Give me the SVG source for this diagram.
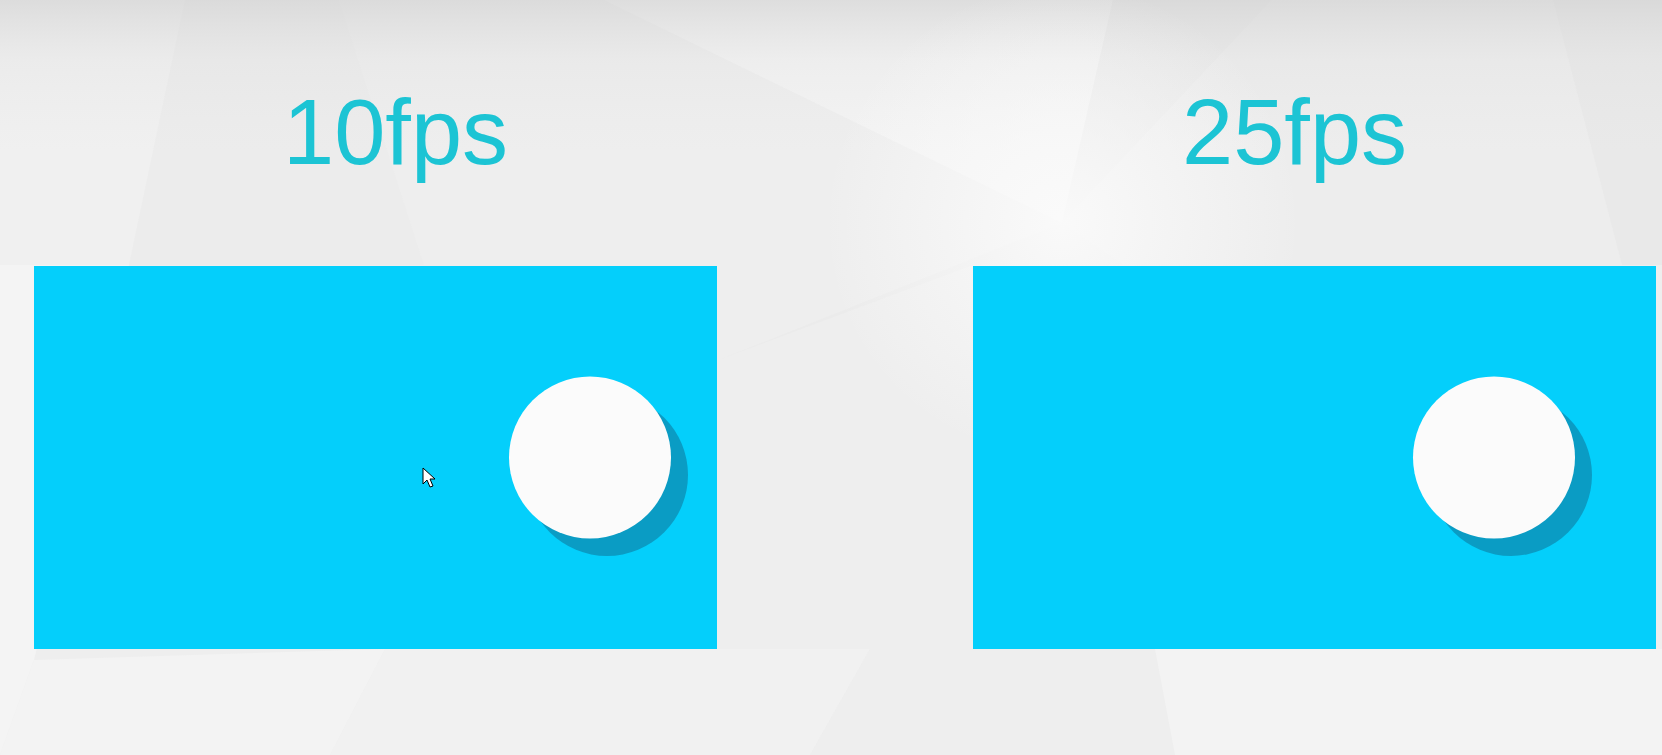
<svg xmlns="http://www.w3.org/2000/svg" width="1662" height="755" viewBox="0 0 1662 755">
<defs>
<linearGradient id="topShade" x1="0" y1="0" x2="0" y2="1">
<stop offset="0" stop-color="#cfcfcf" stop-opacity="0.6"/>
<stop offset="0.08" stop-color="#d8d8d8" stop-opacity="0.2"/>
<stop offset="0.2" stop-color="#e0e0e0" stop-opacity="0"/>
</linearGradient>
<radialGradient id="glow" cx="1062" cy="223" r="240" gradientUnits="userSpaceOnUse">
<stop offset="0" stop-color="#fbfbfb" stop-opacity="0.9"/>
<stop offset="1" stop-color="#fbfbfb" stop-opacity="0"/>
</radialGradient>
<style>
.panel{fill:#04cffb}
.ball{fill:#fbfbfb}
.shadow{fill:#0a9cc4}
.cursor{fill:#ffffff;stroke:#000000;stroke-width:1}
</style>
</defs>
<g id="background">
<rect x="0" y="0" width="1662" height="755" fill="#eeeeee"/>
<polygon points="0,0 185,0 129,265 0,265" fill="#f0f0f0"/>
<polygon points="0,265 129,265 34,660 0,755" fill="#f4f4f4"/>
<polygon points="185,0 339,0 424,265 129,265" fill="#ececec"/>
<polygon points="339,0 604,0 1062,223 721,359 424,265" fill="#eeeeee"/>
<polygon points="604,0 1113,0 1062,223" fill="#f3f3f3"/>
<polygon points="1113,0 1272,0 1062,223" fill="#eaeaea"/>
<polygon points="1272,0 1553,0 1622,265 1124,265 1062,223" fill="#ededed"/>
<polygon points="1062,223 1124,265 973,265 721,359" fill="#ebebeb"/>
<polygon points="1553,0 1662,0 1662,265 1622,265" fill="#e9e9e9"/>
<polygon points="0,755 34,660 385,649 330,755" fill="#f3f3f3"/>
<polygon points="330,755 385,649 870,649 810,755" fill="#f1f1f1"/>
<polygon points="810,755 870,649 1155,649 1175,755" fill="#eeeeee"/>
<polygon points="1175,755 1155,649 1662,649 1662,755" fill="#f3f3f3"/>
<rect x="0" y="0" width="1662" height="755" fill="url(#topShade)"/>
<rect x="0" y="0" width="1662" height="755" fill="url(#glow)"/>
</g>
<g id="label-10fps">
<text x="283" y="164" font-family="Liberation Sans, Arial, sans-serif" font-size="92" fill="#1cc4d4">10fps</text>
</g>
<g id="label-25fps">
<text x="1182" y="164" font-family="Liberation Sans, Arial, sans-serif" font-size="92" fill="#1cc4d4">25fps</text>
</g>
<g id="panel-10fps">
<rect class="panel" x="34" y="266" width="683" height="383"/>
<circle class="shadow" cx="607" cy="475" r="81"/>
<circle class="ball" cx="590" cy="457.5" r="81"/>
<polygon class="cursor" points="423,468 423,484 427,480 430,487 433,486 430,479 435,479"/>
</g>
<g id="panel-25fps">
<rect class="panel" x="973" y="266" width="683" height="383"/>
<circle class="shadow" cx="1511" cy="475" r="81"/>
<circle class="ball" cx="1494" cy="457.5" r="81"/>
</g>
<g id="connectors"/>
</svg>
